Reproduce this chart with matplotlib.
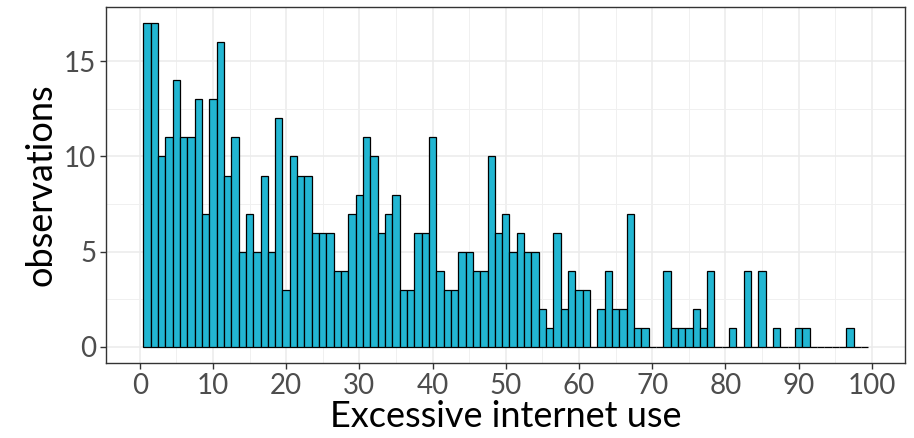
import matplotlib.pyplot as plt
import numpy as np

# Counts per unit-wide bin of the excessive internet use score (bins centred on 1..99)
bin_centers = np.arange(1, 100)
counts = [
    17, 17, 10, 11, 14, 11, 11, 13, 7, 13,
    16, 9, 11, 5, 7, 5, 9, 5, 12, 3,
    10, 9, 9, 6, 6, 6, 4, 4, 7, 8,
    11, 10, 6, 7, 8, 3, 3, 6, 6, 11,
    4, 3, 3, 5, 5, 4, 4, 10, 6, 7,
    5, 6, 5, 5, 2, 1, 6, 2, 4, 3,
    3, 0, 2, 4, 2, 2, 7, 1, 1, 0,
    0, 4, 1, 1, 1, 2, 1, 4, 0, 0,
    1, 0, 4, 0, 4, 0, 1, 0, 0, 1,
    1, 0, 0, 0, 0, 0, 1, 0, 0,
]
x_ticks = np.arange(0, 101, 10)
y_ticks = [0, 5, 10, 15]

plt.rcParams["font.family"] = ["Lato", "DejaVu Sans"]

fig = plt.figure(figsize=(9.14, 4.38), dpi=100)
ax = fig.add_axes([0.116, 0.171, 0.874, 0.813])

ax.bar(bin_centers, counts, width=1.0, color="#22B6D2", edgecolor="black",
       linewidth=0.9, zorder=3)

ax.set_xlim(-4.6, 104.5)
ax.set_ylim(-0.85, 17.85)
ax.set_xticks(x_ticks)
ax.set_yticks(y_ticks)
ax.set_xticks(np.arange(5, 101, 10), minor=True)
ax.set_yticks([2.5, 7.5, 12.5], minor=True)

ax.grid(which="major", color="#EBEBEB", linewidth=1.1, zorder=0)
ax.grid(which="minor", color="#F0F0F0", linewidth=0.7, zorder=0)
ax.set_axisbelow(True)

ax.tick_params(which="major", length=4, width=1, color="#333333",
               labelsize=20, labelcolor="#4D4D4D", pad=3)
ax.tick_params(which="minor", length=0)
for spine in ax.spines.values():
    spine.set_color("#333333")
    spine.set_linewidth(1.0)

ax.set_xlabel("Excessive internet use", fontsize=26, color="black", labelpad=1)
ax.set_ylabel("observations", fontsize=26, color="black", labelpad=5)

fig.savefig("out.png", dpi=100)
